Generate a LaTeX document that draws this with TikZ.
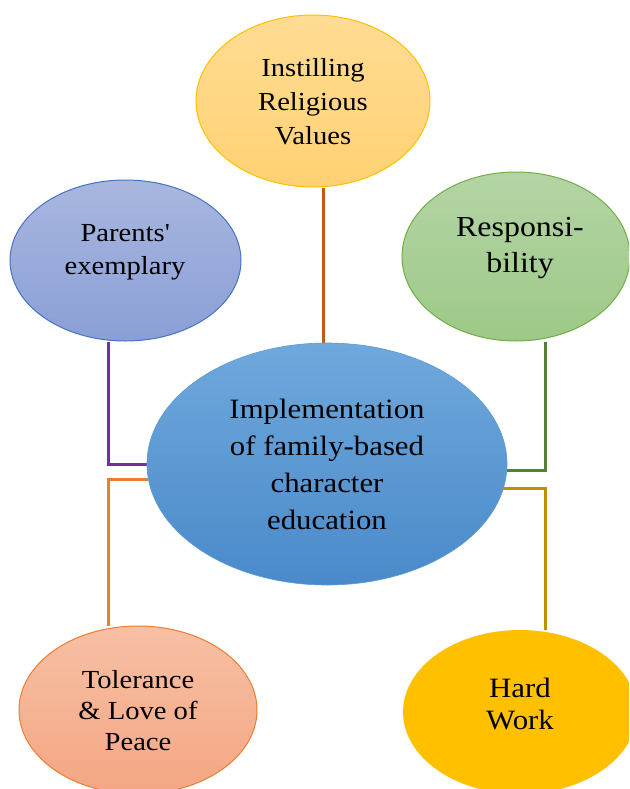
\documentclass[tikz,border=0pt]{standalone}
\usepackage{fontspec}
\setmainfont{Liberation Serif}[FakeStretch=1.1]
\usetikzlibrary{shapes.geometric,backgrounds}

\definecolor{goldline}{HTML}{FFC000}
\definecolor{goldtop}{HTML}{FFDC94}
\definecolor{goldbot}{HTML}{FFD173}
\definecolor{blueline}{HTML}{4472C4}
\definecolor{bluetop}{HTML}{A9B7DF}
\definecolor{bluebot}{HTML}{8A9FD6}
\definecolor{greenline}{HTML}{70AD47}
\definecolor{greentop}{HTML}{B4D4A5}
\definecolor{greenbot}{HTML}{9DC987}
\definecolor{maintop}{HTML}{6FA8DC}
\definecolor{mainbot}{HTML}{4A8ACA}
\definecolor{mainline}{HTML}{5B9BD5}
\definecolor{salmonline}{HTML}{ED7D31}
\definecolor{salmontop}{HTML}{F7C0A5}
\definecolor{salmonbot}{HTML}{F4A683}
\definecolor{hardfill}{HTML}{FFC000}
\definecolor{cpurple}{HTML}{7030A0}
\definecolor{corange}{HTML}{ED7D31}
\definecolor{cbrown}{HTML}{C55A11}
\definecolor{cgreen}{HTML}{548235}
\definecolor{cgold}{HTML}{BF9000}

\tikzset{
  bubble/.style={ellipse, inner sep=0pt, line width=1pt},
  caption/.style={align=center, text=black, inner sep=0pt},
  link/.style={line width=3pt}
}

\begin{document}
\begin{tikzpicture}[x=1pt,y=-1pt]
  \clip (0,0) rectangle (629,789);

  % where the elbow connectors run
  \coordinate (pc) at (108,463);
  \coordinate (oc) at (108,479);
  \coordinate (bc) at (323,0);
  \coordinate (gc) at (545,468);
  \coordinate (hc) at (545,487);

  % outer bubbles
  \node[bubble, draw=goldline, top color=goldtop, bottom color=goldbot,
        minimum width=234pt, minimum height=172pt] (inst) at (313,101) {};
  \node[bubble, draw=blueline, top color=bluetop, bottom color=bluebot,
        minimum width=231pt, minimum height=161pt] (parents) at (125.5,260.5) {};
  \node[bubble, draw=greenline, top color=greentop, bottom color=greenbot,
        minimum width=228pt, minimum height=169pt] (resp) at (516,256.5) {};
  \node[bubble, draw=salmonline, top color=salmontop, bottom color=salmonbot,
        minimum width=238pt, minimum height=168pt] (tol) at (138,710) {};
  \node[bubble, fill=hardfill,
        minimum width=234pt, minimum height=164pt] (hw) at (520,712) {};

  % centre bubble
  \node[bubble, draw=mainline, line width=0.6pt, top color=maintop, bottom color=mainbot,
        minimum width=360pt, minimum height=242pt] (main) at (327,464) {};

  % connectors, kept under the bubbles
  \begin{pgfonlayer}{background}
    \draw[link, cbrown]  (inst.south -| bc) -- (main.north -| bc);
    \draw[link, cpurple] (parents.south -| pc) |- (main.west);
    \draw[link, corange] (main.185) -| (tol.north -| oc);
    \draw[link, cgreen]  (resp.south -| gc) |- (main.358.7);
    \draw[link, cgold]   (main.352.6) -| (hw.north -| hc);
  \end{pgfonlayer}

  % captions
  \node[caption, font=\fontsize{26}{34}\selectfont] (instT) at (313,102)
    {Instilling\\Religious\\Values};
  \node[caption, font=\fontsize{26}{33}\selectfont] (parT) at (125,252)
    {Parents\textquotesingle\\exemplary};
  \node[caption, font=\fontsize{29}{36}\selectfont] (respT) at (520,248)
    {Responsi-\\bility};
  \node[caption, font=\fontsize{28}{37}\selectfont] (mainT) at (327,464)
    {Implementation\\of family-based\\character\\education};
  \node[caption, font=\fontsize{26}{31}\selectfont] (tolT) at (138,711)
    {Tolerance\\\& Love of\\Peace};
  \node[caption, font=\fontsize{28}{32}\selectfont] (hwT) at (520,704)
    {Hard\\Work};
\end{tikzpicture}
\end{document}
